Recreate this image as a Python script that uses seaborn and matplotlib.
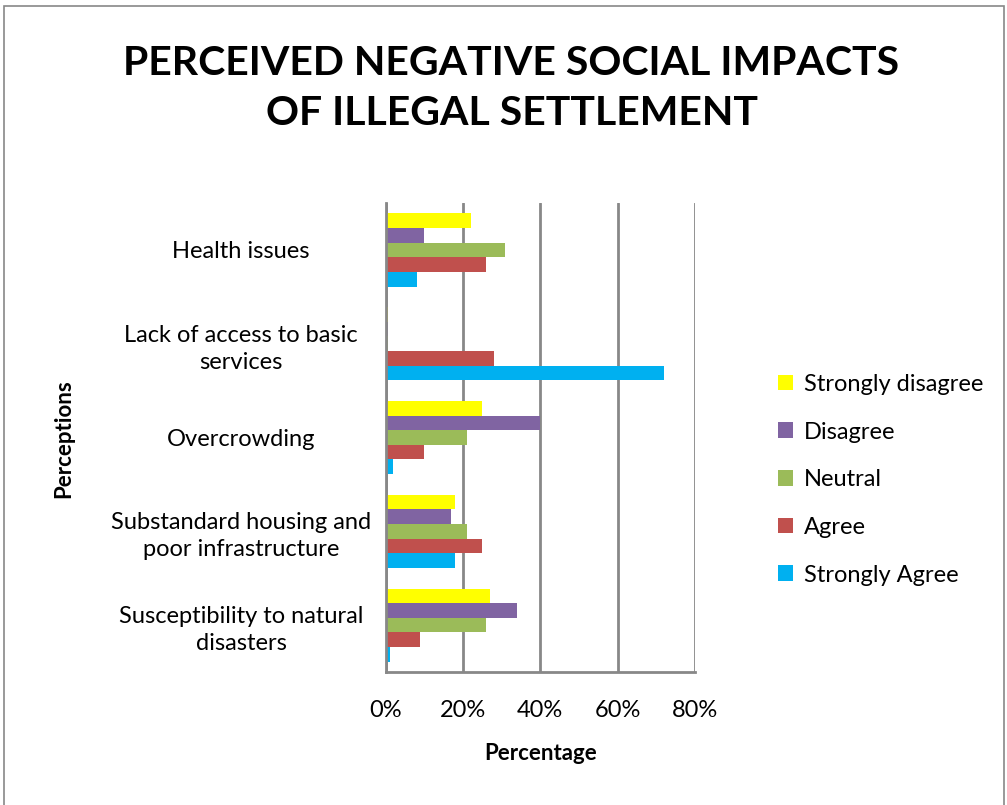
import matplotlib
matplotlib.use("Agg")
import matplotlib.pyplot as plt
import seaborn as sns
import pandas as pd
from matplotlib.patches import Rectangle

categories = [
    "Health issues",
    "Lack of access to basic\nservices",
    "Overcrowding",
    "Substandard housing and\npoor infrastructure",
    "Susceptibility to natural\ndisasters",
]
responses = ["Strongly disagree", "Disagree", "Neutral", "Agree", "Strongly Agree"]
strongly_disagree = [22, 0.5, 25, 18, 27]
disagree = [10, 0.5, 40, 17, 34]
neutral = [31, 0.5, 21, 21, 26]
agree = [26, 28, 10, 25, 9]
strongly_agree = [8, 72, 2, 18, 1]
colors = ["#FFFF00", "#8064A2", "#9BBB59", "#C0504D", "#00B0F0"]
xticks = [0, 20, 40, 60, 80]
xticklabels = ["0%", "20%", "40%", "60%", "80%"]

series = [strongly_disagree, disagree, neutral, agree, strongly_agree]
rows = []
for r, vals in zip(responses, series):
    for c, v in zip(categories, vals):
        rows.append({"Perceptions": c, "Response": r, "Percentage": v})
df = pd.DataFrame(rows)

sns.set_theme(style="white")
plt.rcParams["font.family"] = ["Lato", "DejaVu Sans"]
plt.rcParams["text.color"] = "black"
plt.rcParams["axes.labelcolor"] = "black"
plt.rcParams["xtick.color"] = "black"
plt.rcParams["ytick.color"] = "black"

fig = plt.figure(figsize=(10.07, 8.05), dpi=100)
fig.patches.append(Rectangle((0.004, -0.01), 0.993, 1.002, transform=fig.transFigure,
                             fill=False, edgecolor="#888888", linewidth=1.2))
ax = fig.add_axes([0.383, 0.1652, 0.307, 0.5826])

sns.barplot(data=df, y="Perceptions", x="Percentage", hue="Response",
            order=categories, hue_order=responses, palette=colors,
            orient="h", width=0.78, ax=ax, saturation=1, edgecolor="none")

ax.set_xlim(0, 80)
ax.set_xticks(xticks)
ax.set_xticklabels(xticklabels, fontsize=17)
ax.set_ylim(len(categories) - 0.5, -0.5)
ax.set_yticks(range(len(categories)))
ax.set_yticklabels(categories, fontsize=17, linespacing=1.35)
for lbl in ax.get_yticklabels():
    lbl.set_horizontalalignment("center")
ax.tick_params(axis="y", which="major", length=0, pad=104)
ax.tick_params(axis="x", length=0, pad=20)
ax.set_yticks([i + 0.5 for i in range(-1, len(categories))], minor=True)
ax.tick_params(axis="y", which="minor", length=8, color="#888888", width=1.2)
ax.grid(axis="x", color="#888888", linewidth=2)
ax.set_axisbelow(True)
for s in ["top", "right"]:
    ax.spines[s].set_visible(False)
for s in ["left", "bottom"]:
    ax.spines[s].set_color("#888888")
    ax.spines[s].set_linewidth(2)

ax.set_xlabel("Percentage", fontsize=16, fontweight="bold", labelpad=16)
ax.set_ylabel("Perceptions", fontsize=16, fontweight="bold")
ax.yaxis.set_label_coords(-1.008, 0.497)

fig.text(0.508, 0.89, "PERCEIVED NEGATIVE SOCIAL IMPACTS\nOF ILLEGAL SETTLEMENT",
         ha="center", va="center", fontsize=29.5, fontweight="bold",
         linespacing=1.45, color="black")

ax.legend(loc="center left", bbox_to_anchor=(1.2, 0.41), frameon=False,
          fontsize=17, handlelength=0.65, handleheight=0.65, labelspacing=1.13,
          handletextpad=0.45)

fig.savefig("out.png", dpi=100)
